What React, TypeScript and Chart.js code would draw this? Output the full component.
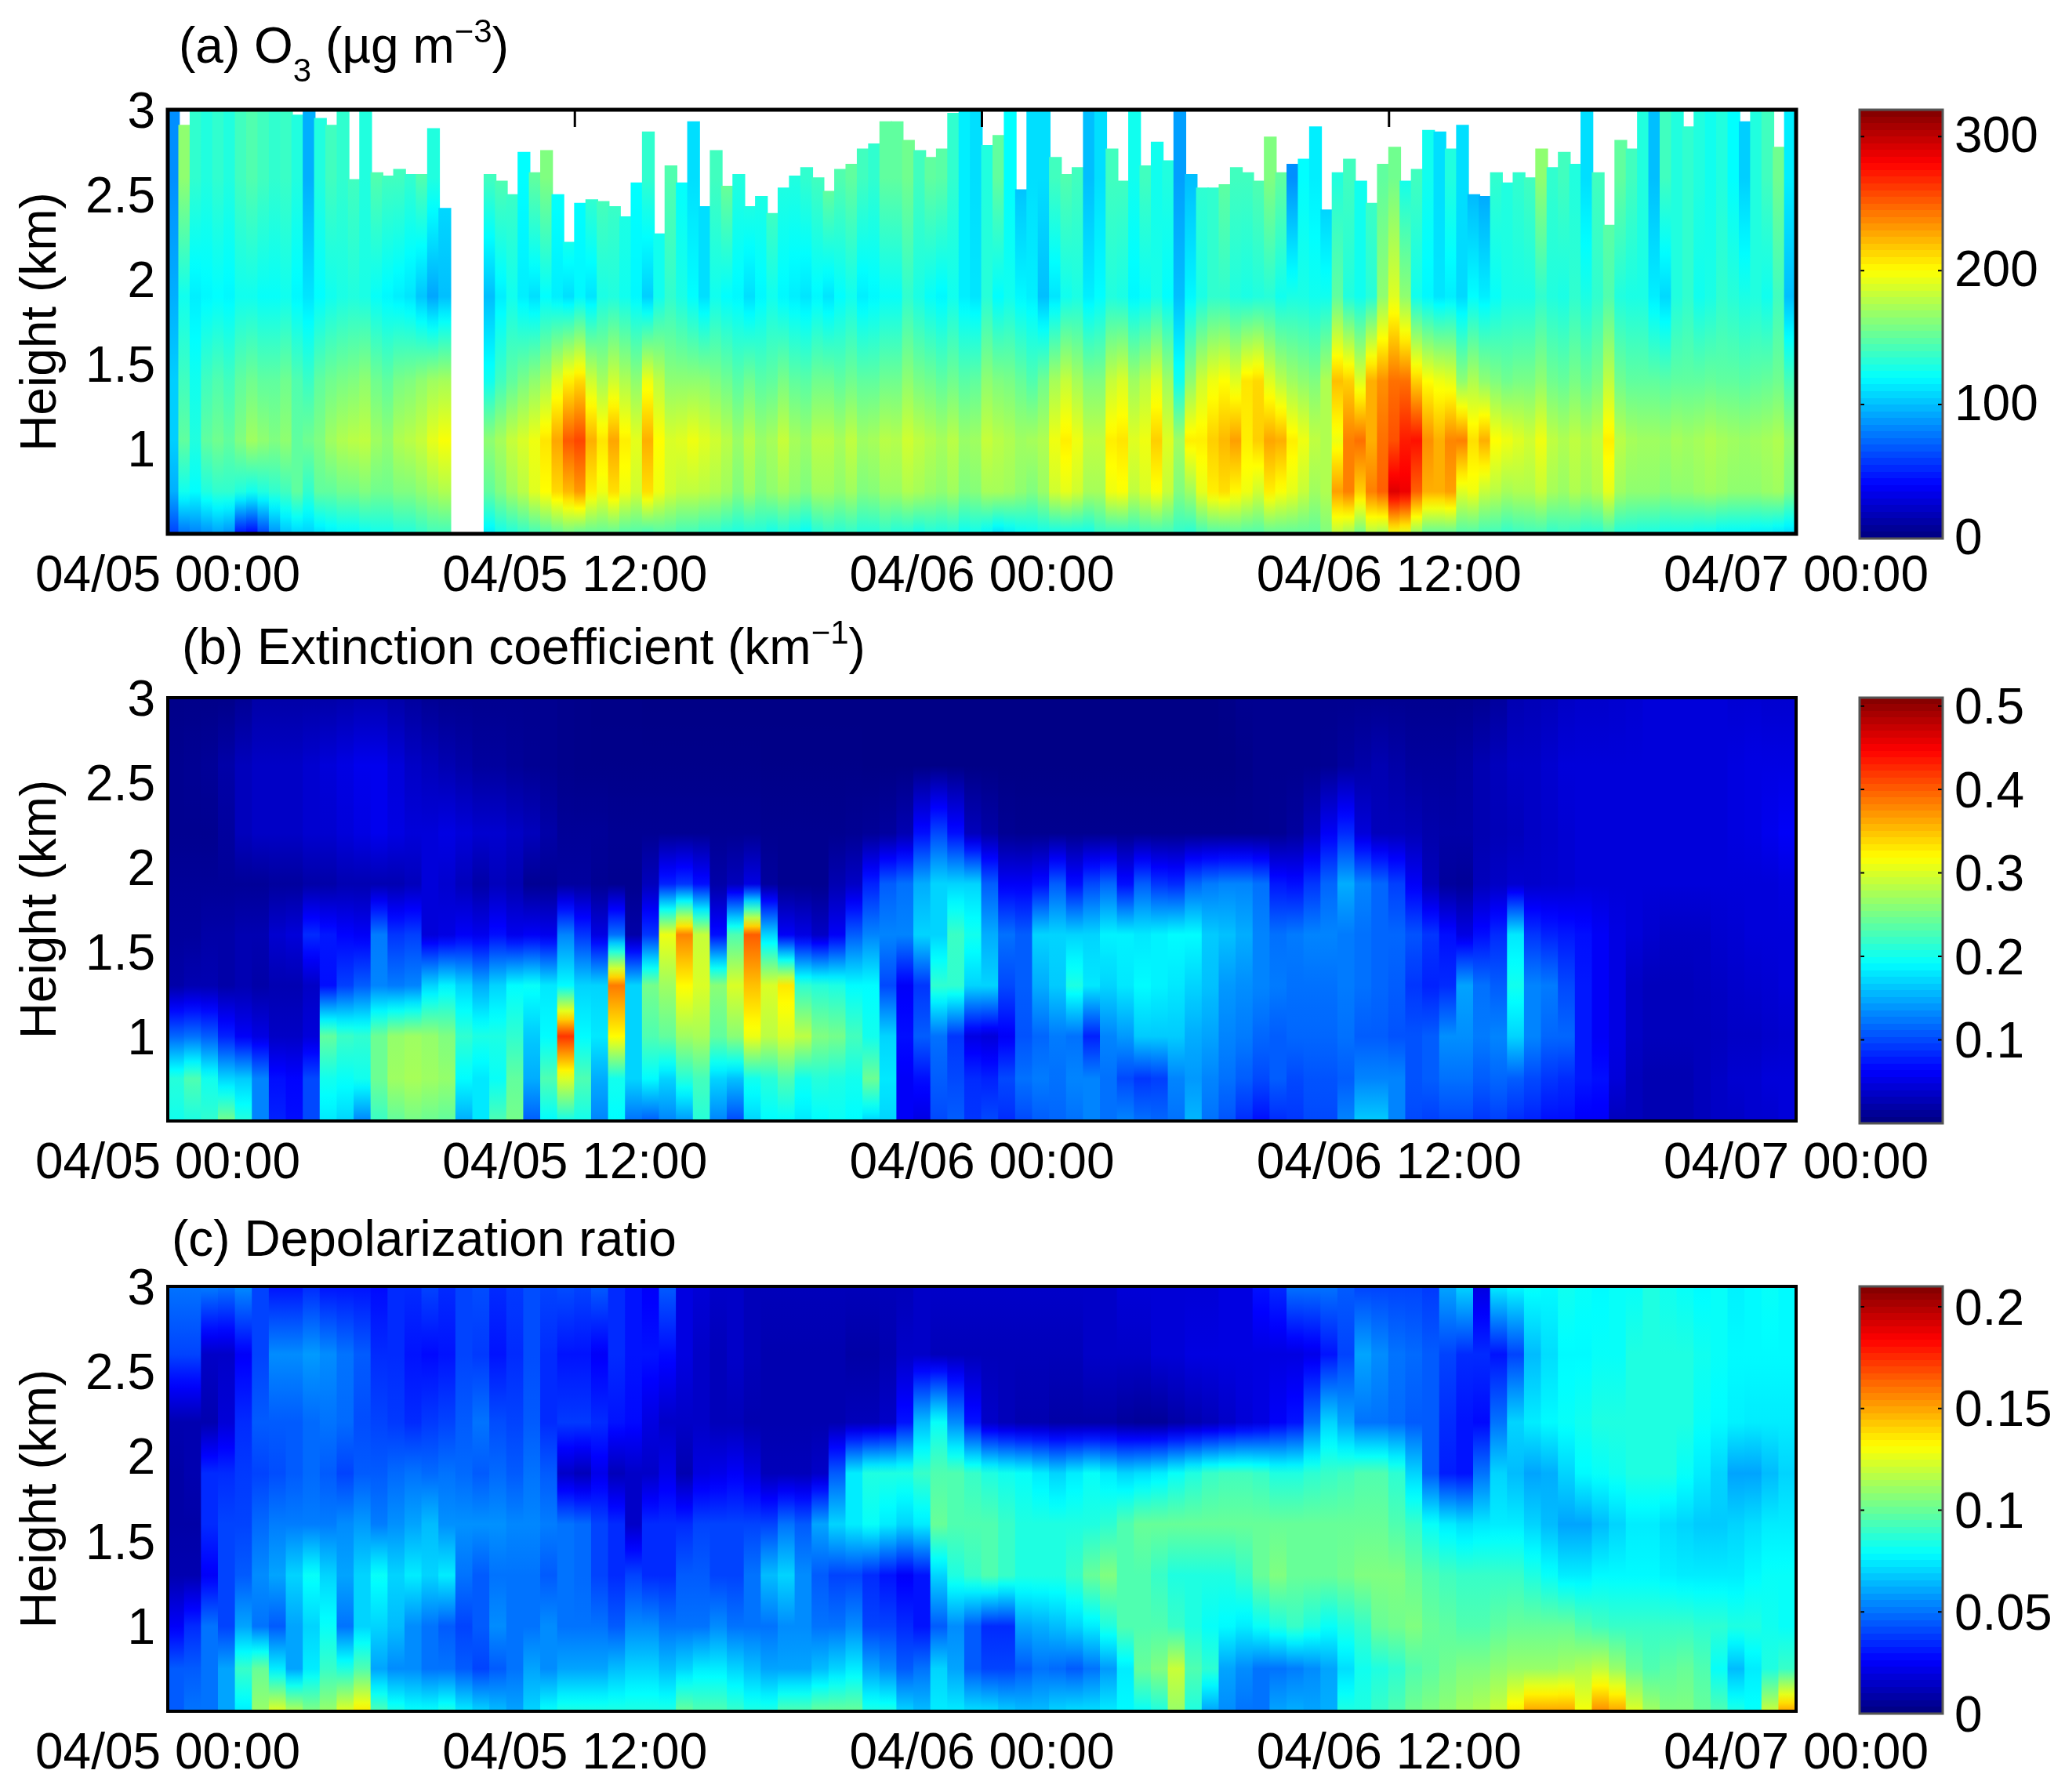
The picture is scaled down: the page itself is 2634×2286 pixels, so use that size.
import React, { useEffect, useRef } from "react";
import Chart from "chart.js/auto";

const X_TICK_HOURS = [0, 12, 24, 36, 48];
const X_LABELS = ["04/05 00:00", "04/05 12:00", "04/06 00:00", "04/06 12:00", "04/07 00:00"];
const Y_TICKS = [1, 1.5, 2, 2.5, 3];

// O3 (ug m-3), 20-minute columns
const O3_HEIGHTS = [0.5, 0.75, 1.05, 1.4, 1.9, 2.6];
const O3_TOP = [
  3,2.91,3,3,3,3,3,3,3,3,3,2.97,3,2.95,2.91,3,2.59,3,2.63,2.61,2.65,2.62,2.62,2.89,
  2.42,null,null,null,2.62,2.58,2.5,2.75,2.63,2.76,2.5,2.22,2.45,2.47,2.46,2.43,2.37,2.57,2.87,2.27,2.67,2.57,2.93,2.43,
  2.76,2.55,2.62,2.43,2.49,2.39,2.54,2.61,2.66,2.6,2.52,2.65,2.68,2.77,2.8,2.93,2.93,2.82,2.76,2.72,2.77,2.98,3,3,
  2.79,2.85,3,2.53,3,3,2.72,2.62,2.66,3,3,2.77,2.58,3,2.67,2.81,2.7,3,2.62,2.54,2.54,2.56,2.66,2.63,
  2.58,2.84,2.63,2.68,2.71,2.9,2.41,2.63,2.71,2.58,2.45,2.68,2.78,2.58,2.65,2.88,2.87,2.77,2.91,2.5,2.49,2.63,2.57,2.63,
  2.6,2.77,2.66,2.75,2.68,3,2.63,2.32,2.82,2.77,3,3,3,3,2.9,3,3,3,3,2.93,3,3,2.78,3,
];
const O3_H050 = [
  60,75,80,85,90,85,45,40,60,85,100,105,105,110,115,118,118,122,125,125,130,130,135,140,
  140,null,null,null,115,125,130,135,140,145,150,155,150,150,150,150,145,145,140,145,145,140,140,135,
  135,130,128,130,130,125,130,125,120,130,135,132,135,130,130,135,130,130,125,130,128,130,122,125,
  118,110,115,120,122,125,125,125,125,125,135,135,135,135,140,140,140,135,132,140,145,145,148,145,
  145,150,150,150,150,150,160,178,170,155,175,170,195,190,165,150,150,150,145,145,140,140,135,138,
  140,140,135,138,135,132,132,140,130,130,128,128,125,125,125,122,122,118,118,118,115,115,112,108,
];
const O3_H075 = [
  95,125,120,130,135,135,130,125,130,135,140,150,135,150,150,155,155,160,155,155,160,160,165,170,
  175,null,null,null,150,160,170,178,190,200,212,222,232,205,195,210,195,185,210,195,185,180,180,178,
  175,170,160,170,160,165,170,165,160,170,170,165,170,160,162,168,168,175,172,168,165,170,160,162,
  172,172,170,165,160,168,185,192,185,172,172,195,198,180,188,198,182,160,170,192,205,210,202,195,
  185,205,198,192,182,170,175,230,240,215,240,250,290,285,250,225,225,230,190,195,182,178,172,175,
  175,182,172,168,175,170,175,192,170,165,165,165,162,165,165,168,170,168,165,165,165,168,170,158,
];
const O3_H105 = [
  105,150,130,150,155,150,160,170,165,160,165,150,155,160,170,175,178,180,170,165,175,178,182,192,
  198,null,null,null,165,172,182,188,195,208,228,252,258,225,208,228,205,192,225,200,188,190,195,190,
  185,178,168,178,168,172,182,172,168,178,178,172,180,170,172,178,176,185,180,176,172,178,168,170,
  182,178,175,170,172,175,195,205,195,180,180,205,208,190,195,215,190,170,205,205,215,222,230,205,
  215,228,225,205,195,180,175,195,240,245,225,245,255,272,275,235,225,238,240,210,225,200,195,190,
  185,195,180,175,180,175,180,205,178,172,170,170,168,172,170,172,175,172,170,168,170,172,175,165,
];
const O3_H140 = [
  105,140,125,140,145,140,150,155,150,150,155,145,138,150,155,158,160,165,155,150,158,160,165,170,
  172,null,null,null,125,140,150,158,165,172,190,205,212,185,172,185,175,165,195,180,165,165,165,165,
  160,155,148,155,148,150,158,150,148,155,155,150,155,150,150,155,155,165,158,155,150,155,148,150,
  165,160,158,152,145,155,172,182,172,160,160,182,188,170,178,190,170,125,165,185,195,200,190,208,
  212,190,178,170,165,160,175,220,215,190,225,235,245,245,215,200,195,192,165,175,165,160,155,158,
  158,165,155,152,158,152,158,180,155,150,150,150,148,150,150,150,152,150,150,148,150,152,155,142,
];
const O3_H190 = [
  95,125,115,118,120,118,125,125,122,122,125,118,112,120,125,128,130,128,122,118,115,112,102,92,
  100,null,null,null,100,115,125,115,110,120,115,110,118,112,128,130,125,118,105,125,135,128,120,110,
  125,120,118,110,118,125,118,115,112,118,112,120,125,115,118,122,122,135,128,122,118,125,115,112,
  132,120,125,118,115,100,112,125,128,115,120,130,128,118,122,128,120,100,118,128,135,135,130,128,
  130,132,125,128,128,125,125,150,130,125,132,165,190,165,125,118,112,115,108,120,115,122,128,128,
  128,135,130,128,135,128,135,145,130,128,128,115,108,130,135,125,128,135,132,128,130,125,140,100,
];
const O3_H260 = [
  85,165,135,130,135,130,140,145,140,135,138,130,95,130,140,135,140,130,145,140,140,135,145,130,
  110,null,null,null,140,145,140,120,150,160,122,145,120,140,145,140,130,120,135,125,145,120,110,110,
  140,155,130,135,130,145,130,130,135,140,155,145,150,140,135,150,150,155,140,150,148,135,115,110,
  130,150,120,100,110,110,140,145,140,100,110,140,140,125,140,125,130,90,100,135,135,150,140,140,
  145,160,150,85,120,115,100,130,140,125,140,150,155,125,140,125,110,130,110,95,90,135,130,135,
  140,165,135,140,130,110,140,150,150,140,130,100,140,130,135,130,125,130,120,105,130,140,155,115,
];

// Extinction coefficient (0.001 km-1), 30-minute columns
const EXT_HEIGHTS = [0.5, 0.75, 1.0, 1.3, 1.6, 1.9, 2.2, 2.6, 3.0];
const EXT_H050 = [
  200,205,215,250,210,130,80,70,100,180,170,130,220,240,250,245,240,150,180,230,250,110,190,200,
  200,130,190,120,110,130,140,210,130,100,170,190,190,180,190,195,190,170,170,60,50,100,110,90,
  100,85,100,110,115,120,130,120,130,120,115,120,155,120,105,85,70,85,90,100,100,130,165,165,
  130,100,95,100,100,90,95,85,80,70,70,60,60,30,30,25,25,25,30,35,35,40,40,45,
];
const EXT_H075 = [
  210,230,200,170,165,130,70,65,100,200,195,200,245,270,275,270,265,190,180,195,240,150,230,300,
  230,150,200,170,190,170,210,225,170,160,200,210,230,200,210,205,200,245,180,60,70,110,100,85,
  80,100,120,125,120,130,130,120,100,90,95,130,140,130,120,110,100,110,100,105,105,110,130,130,
  130,105,110,120,120,110,115,110,100,90,85,75,70,45,30,25,25,25,30,35,40,40,45,45,
];
const EXT_H100 = [
  115,120,110,80,60,50,35,35,45,240,220,215,245,265,270,265,255,215,205,205,215,165,190,420,
  190,180,320,170,230,240,270,275,240,260,310,285,300,285,255,250,225,200,170,70,110,120,90,50,
  45,60,105,115,125,120,80,130,140,165,165,165,150,145,130,125,115,110,115,115,115,120,110,110,
  105,105,110,135,135,125,130,170,130,115,115,75,60,50,35,30,30,30,30,32,35,35,38,40,
];
const EXT_H130 = [
  20,25,25,20,25,20,25,25,35,70,95,110,130,125,130,170,185,170,150,170,190,195,180,190,
  170,170,385,170,250,270,320,300,260,300,350,300,330,215,210,205,190,190,100,60,90,215,215,170,
  170,100,110,150,165,205,180,170,180,190,185,180,170,160,140,135,130,125,120,120,120,125,120,115,
  110,90,80,85,145,120,110,200,130,125,100,75,60,50,35,30,30,30,32,35,38,40,42,45,
];
const EXT_H160 = [
  15,15,20,20,25,25,40,45,85,75,65,60,125,90,95,45,50,60,55,70,55,60,55,130,
  90,50,120,20,90,310,380,290,70,230,400,170,60,50,35,60,110,130,130,130,170,170,220,200,
  150,120,110,170,170,170,170,185,185,180,185,190,190,165,160,150,130,120,125,130,130,125,120,115,
  115,105,90,70,50,70,85,180,90,80,75,70,60,50,45,40,35,35,35,40,42,45,45,45,
];
const EXT_H190 = [
  12,12,12,12,12,12,15,15,20,20,25,25,25,25,30,45,40,30,20,30,25,10,10,15,
  15,10,8,8,30,80,90,70,20,30,50,15,8,8,8,25,35,80,110,120,150,170,170,170,
  110,60,60,70,110,70,100,115,70,110,90,85,115,125,130,130,120,75,70,90,115,150,130,115,
  95,60,30,14,12,30,35,40,38,40,42,45,45,45,45,45,45,45,45,45,45,45,45,48,
];
const EXT_H220 = [
  8,8,8,15,30,35,35,35,40,40,45,50,55,50,45,45,50,45,40,40,35,30,20,12,
  12,12,10,10,10,10,10,10,10,10,10,8,8,8,8,8,10,12,15,25,70,100,70,30,
  20,10,8,8,8,8,8,8,8,8,8,8,8,8,8,8,8,10,15,30,60,85,45,30,
  30,28,22,20,20,25,28,30,35,38,42,45,45,45,45,45,45,45,45,45,48,50,55,60,
];
const EXT_H260 = [
  8,10,12,20,30,35,35,35,40,45,50,55,55,45,35,30,25,20,15,15,12,10,8,6,
  5,5,5,5,5,5,5,5,5,5,5,4,4,4,4,4,4,3,3,3,3,3,3,3,
  3,3,3,3,3,3,3,3,3,3,3,3,3,3,3,5,8,8,8,8,10,15,20,25,
  20,15,15,15,18,25,30,35,35,40,45,45,45,45,45,45,45,45,45,45,48,50,50,50,
];
const EXT_H300 = [
  5,5,5,5,10,20,20,20,20,20,22,25,25,20,15,10,8,8,8,8,8,8,8,6,
  5,4,4,4,3,3,3,3,3,3,3,3,3,3,3,3,3,3,3,3,3,3,3,3,
  3,3,3,3,3,3,3,3,3,3,3,3,3,3,5,8,8,8,8,8,8,8,8,8,
  8,8,8,8,8,10,15,25,28,30,35,38,38,40,42,45,45,45,45,45,42,42,40,40,
];

// Depolarization ratio (0.001), 30-minute columns
const DEP_HEIGHTS = [0.5, 0.75, 1.0, 1.3, 1.6, 1.9, 2.2, 2.6, 3.0];
const DEP_H050 = [
  45,50,50,60,75,110,125,115,105,110,125,135,95,85,80,80,85,75,70,65,60,70,80,85,
  85,85,85,85,85,85,100,95,95,90,85,85,95,95,100,100,100,85,85,70,65,75,75,72,
  72,68,65,65,70,72,72,75,78,80,85,110,85,60,55,50,50,60,62,60,62,85,85,90,
  95,102,105,108,112,115,120,135,150,150,150,130,155,150,125,112,105,105,100,95,85,80,120,150,
];
const DEP_H075 = [
  45,45,50,60,90,100,75,60,75,90,85,95,60,55,55,50,50,45,40,45,50,60,55,60,
  60,60,65,70,70,65,70,75,75,70,65,60,60,60,65,70,75,60,55,45,50,70,60,45,
  40,40,45,50,48,45,50,58,75,100,105,120,95,88,60,55,50,50,52,55,60,72,82,85,
  88,95,98,102,105,105,108,110,110,110,112,115,118,110,100,95,98,100,95,80,65,75,85,90,
];
const DEP_H100 = [
  25,35,50,40,60,50,45,60,70,80,50,70,70,65,55,50,45,40,45,55,50,50,55,50,
  50,50,45,55,55,50,50,50,55,50,50,50,55,55,50,50,55,40,40,35,30,45,55,45,
  35,35,60,62,65,70,75,85,95,95,95,90,85,80,78,75,80,85,90,85,80,85,90,100,
  102,105,100,98,95,95,98,100,100,100,100,95,92,90,90,90,90,90,88,88,85,85,82,80,
];
const DEP_H130 = [
  10,10,25,40,45,55,60,70,80,70,60,70,80,70,75,70,75,50,45,50,50,50,45,50,
  48,40,35,40,35,35,45,45,40,40,50,65,70,55,45,40,40,35,30,25,30,70,85,90,
  95,90,85,85,85,90,100,105,95,95,90,85,85,85,85,90,100,105,100,100,100,102,105,105,
  105,100,95,92,90,90,90,90,85,80,75,75,78,78,78,78,76,75,75,75,75,78,80,80,
];
const DEP_H160 = [
  8,8,35,40,40,48,52,52,52,52,55,58,52,56,60,65,56,56,56,56,54,54,52,50,
  48,40,35,15,35,35,35,40,40,40,40,40,50,45,60,70,75,80,75,70,75,100,95,95,
  95,90,85,85,85,85,85,88,95,100,100,100,100,100,100,100,100,100,100,100,100,100,100,100,
  95,90,80,75,72,74,75,75,70,65,60,60,65,70,75,75,72,70,68,68,70,72,75,75,
];
const DEP_H190 = [
  8,10,35,35,38,40,42,45,48,45,40,45,45,48,50,48,50,48,45,48,45,50,45,15,
  12,22,12,15,15,22,10,20,22,25,20,12,12,12,15,45,75,85,85,85,90,95,95,90,
  85,82,80,75,70,75,80,75,70,72,75,80,85,90,92,92,90,85,85,88,90,92,95,95,
  88,70,45,32,30,50,70,65,60,62,70,78,80,82,85,85,85,80,75,70,60,60,65,70,
];
const DEP_H220 = [
  10,10,10,18,35,45,45,45,48,50,48,42,40,38,35,38,40,45,50,42,40,45,35,38,
  38,35,30,28,20,15,15,15,12,12,10,10,10,10,10,10,12,12,15,30,65,80,55,30,
  15,12,10,10,8,8,8,8,6,5,5,8,10,12,15,18,20,25,30,50,70,60,50,50,
  48,45,45,35,30,28,50,70,75,78,80,82,85,85,85,85,85,85,80,78,76,75,75,75,
];
const DEP_H260 = [
  40,40,15,15,25,40,55,55,58,55,50,45,35,35,30,28,30,40,38,30,35,42,35,30,
  30,25,35,30,30,28,20,15,12,15,12,10,10,10,10,10,8,8,10,15,15,12,12,12,
  12,12,12,12,12,12,15,15,15,15,18,18,20,20,20,20,20,20,20,22,30,40,60,55,
  50,48,45,40,35,35,30,40,65,72,78,78,80,80,85,85,85,85,82,80,78,78,78,78,
];
const DEP_H300 = [
  50,50,52,50,55,40,30,30,35,30,30,30,28,35,35,40,35,40,42,35,38,42,40,42,
  40,45,35,30,25,45,20,18,15,15,12,12,12,12,12,12,12,12,12,12,15,15,15,15,
  15,15,15,15,15,15,15,15,18,18,18,18,18,18,20,20,30,35,50,50,50,45,40,40,
  40,40,38,60,70,20,75,78,80,78,82,80,78,80,80,85,82,80,78,80,76,78,80,78,
];

const FONT_FAMILY = '"Liberation Sans", Arial, sans-serif';
const FONT_SIZE = 64;
const PLOT_LEFT = 214;
const PLOT_RIGHT = 2291;
const CBAR_LEFT = 2372;
const CBAR_RIGHT = 2478;
const CBAR_CANVAS_LEFT = 2300;

const clamp = (v: number) => Math.max(0, Math.min(1, v));
const jet = (t: number) => {
  const r = clamp(1.5 - Math.abs(4 * t - 3));
  const g = clamp(1.5 - Math.abs(4 * t - 2));
  const b = clamp(1.5 - Math.abs(4 * t - 1));
  return `rgb(${Math.round(r * 255)},${Math.round(g * 255)},${Math.round(b * 255)})`;
};

const PANELS = [
  {
    canvasTop: 0, canvasHeight: 775, plotTop: 140, plotBottom: 681, cbarTop: 140, cbarBottom: 687,
    heights: O3_HEIGHTS, rows: [O3_H050, O3_H075, O3_H105, O3_H140, O3_H190, O3_H260], tops: O3_TOP,
    colHours: 1 / 3, valueMax: 320, cbarMax: 320, cbarTicks: [0, 100, 200, 300], topTicks: true, cbarLabelShift: 2,
    titleX: 228, titleY: 80,
    title: [
      { text: "(a) O" }, { text: "3", kind: "sub" }, { text: " (\u00b5g m" }, { text: "\u22123", kind: "sup" }, { text: ")" },
    ],
  },
  {
    canvasTop: 775, canvasHeight: 755, plotTop: 890, plotBottom: 1430, cbarTop: 890, cbarBottom: 1433,
    heights: EXT_HEIGHTS, rows: [EXT_H050, EXT_H075, EXT_H100, EXT_H130, EXT_H160, EXT_H190, EXT_H220, EXT_H260, EXT_H300], tops: null,
    colHours: 0.5, valueMax: 510, cbarMax: 0.51, cbarTicks: [0.1, 0.2, 0.3, 0.4, 0.5], topTicks: false, cbarLabelShift: 5,
    titleX: 232, titleY: 847,
    title: [{ text: "(b) Extinction coefficient (km" }, { text: "\u22121", kind: "sup" }, { text: ")" }],
  },
  {
    canvasTop: 1530, canvasHeight: 756, plotTop: 1641, plotBottom: 2183, cbarTop: 1641, cbarBottom: 2186,
    heights: DEP_HEIGHTS, rows: [DEP_H050, DEP_H075, DEP_H100, DEP_H130, DEP_H160, DEP_H190, DEP_H220, DEP_H260, DEP_H300], tops: null,
    colHours: 0.5, valueMax: 210, cbarMax: 0.21, cbarTicks: [0, 0.05, 0.1, 0.15, 0.2], topTicks: false, cbarLabelShift: 5,
    titleX: 219, titleY: 1602,
    title: [{ text: "(c) Depolarization ratio" }],
  },
];

function profileAt(panel: any, col: number, h: number) {
  const hs = panel.heights;
  if (h <= hs[0]) return panel.rows[0][col];
  for (let l = 1; l < hs.length; l++) {
    if (h <= hs[l]) {
      const a = panel.rows[l - 1][col];
      const b = panel.rows[l][col];
      const f = (h - hs[l - 1]) / (hs[l] - hs[l - 1]);
      return a + (b - a) * f;
    }
  }
  return panel.rows[hs.length - 1][col];
}

function columnFill(panel: any) {
  return (c: any) => {
    const y = c.chart.scales.y;
    if (!y || !c.chart.chartArea || c.dataIndex === undefined) return "#fff";
    const grad = c.chart.ctx.createLinearGradient(0, y.getPixelForValue(0.5), 0, y.getPixelForValue(3));
    const steps = 50;
    for (let s = 0; s <= steps; s++) {
      const v = profileAt(panel, c.dataIndex, 0.5 + (2.5 * s) / steps) ?? 0;
      grad.addColorStop(s / steps, jet(v / panel.valueMax));
    }
    return grad;
  };
}

function cbarFill(max: number) {
  return (c: any) => {
    const y = c.chart.scales.y;
    if (!y || !c.chart.chartArea) return "#fff";
    const grad = c.chart.ctx.createLinearGradient(0, y.getPixelForValue(0), 0, y.getPixelForValue(max));
    for (let k = 0; k < 64; k++) {
      const col = jet((k + 0.5) / 64);
      grad.addColorStop(k / 64, col);
      grad.addColorStop((k + 1) / 64, col);
    }
    return grad;
  };
}

function HeatPanel({ panel }: { panel: any }) {
  const ref = useRef<HTMLCanvasElement>(null);
  useEffect(() => {
    const localTop = panel.plotTop - panel.canvasTop;
    const localBottom = panel.plotBottom - panel.canvasTop;
    const nCols = panel.rows[0].length;
    const thickness = (PLOT_RIGHT - PLOT_LEFT) / nCols + 1.2;
    const data = panel.rows[0].map((_: any, i: number) => {
      const top = panel.tops ? panel.tops[i] : 3;
      return { x: (i + 0.5) * panel.colHours, y: top === null ? null : [0.5, top] };
    });
    const decor = {
      id: "decor",
      afterDraw(chart: any) {
        const { ctx, chartArea: a, scales } = chart;
        ctx.save();
        if (panel.topTicks) {
          ctx.strokeStyle = "#000";
          ctx.lineWidth = 3;
          X_TICK_HOURS.slice(1, -1).forEach((h) => {
            const px = scales.x.getPixelForValue(h);
            ctx.beginPath();
            ctx.moveTo(px, a.top);
            ctx.lineTo(px, a.top + 22);
            ctx.stroke();
          });
        }
        ctx.strokeStyle = "#000";
        ctx.lineWidth = panel.topTicks ? 5 : 4;
        ctx.strokeRect(a.left, a.top, a.right - a.left, a.bottom - a.top);
        ctx.fillStyle = "#000";
        ctx.textBaseline = "alphabetic";
        ctx.textAlign = "left";
        let x = panel.titleX;
        const base = panel.titleY - panel.canvasTop;
        panel.title.forEach((run: any) => {
          const small = run.kind === "sub" || run.kind === "sup";
          ctx.font = `${small ? 42 : FONT_SIZE}px ${FONT_FAMILY}`;
          const dy = run.kind === "sub" ? 24 : run.kind === "sup" ? -26 : 0;
          ctx.fillText(run.text, x, base + dy);
          x += ctx.measureText(run.text).width;
        });
        ctx.restore();
      },
    };
    const chart = new Chart(ref.current as any, {
      type: "bar",
      data: {
        datasets: [{
          data,
          barThickness: thickness,
          borderWidth: 0,
          backgroundColor: columnFill(panel),
        }],
      },
      options: {
        responsive: false,
        animation: false,
        events: [],
        layout: { autoPadding: false, padding: { left: 0, top: localTop, right: 2634 - PLOT_RIGHT, bottom: 0 } },
        plugins: { legend: { display: false }, tooltip: { enabled: false } },
        scales: {
          x: {
            type: "linear",
            offset: false,
            min: 0,
            max: 48,
            grid: { display: false },
            border: { display: false },
            afterBuildTicks: (s: any) => { s.ticks = X_TICK_HOURS.map((value) => ({ value })); },
            afterFit: (s: any) => {
              s.height = panel.canvasHeight - localBottom;
              s.paddingLeft = 0;
              s.paddingRight = 0;
            },
            ticks: {
              autoSkip: false,
              maxRotation: 0,
              minRotation: 0,
              padding: 9,
              color: "#000",
              font: { family: FONT_FAMILY, size: FONT_SIZE },
              callback: (v: any) => X_LABELS[X_TICK_HOURS.indexOf(v)],
            },
          },
          y: {
            type: "linear",
            min: 0.5,
            max: 3,
            grid: { display: false },
            border: { display: false },
            afterBuildTicks: (s: any) => { s.ticks = Y_TICKS.map((value) => ({ value })); },
            afterFit: (s: any) => {
              s.width = PLOT_LEFT;
              s.paddingTop = 0;
              s.paddingBottom = 0;
            },
            title: {
              display: true,
              text: "Height (km)",
              color: "#000",
              font: { family: FONT_FAMILY, size: FONT_SIZE, lineHeight: 1 },
              padding: { top: 21, bottom: 0 },
            },
            ticks: {
              autoSkip: false,
              padding: 8,
              labelOffset: 5,
              color: "#000",
              font: { family: FONT_FAMILY, size: FONT_SIZE },
              callback: (v: any) => String(v),
            },
          },
        },
      } as any,
      plugins: [decor],
    });
    return () => chart.destroy();
  }, [panel]);
  return (
    <canvas
      ref={ref}
      width={2634}
      height={panel.canvasHeight}
      style={{ position: "absolute", left: 0, top: panel.canvasTop, display: "block", width: 2634, height: panel.canvasHeight }}
    />
  );
}

function ColorBar({ panel }: { panel: any }) {
  const ref = useRef<HTMLCanvasElement>(null);
  useEffect(() => {
    const localTop = panel.cbarTop - panel.canvasTop;
    const localBottom = panel.cbarBottom - panel.canvasTop;
    const frame = {
      id: "frame",
      afterDraw(chart: any) {
        const { ctx, chartArea: a, scales } = chart;
        ctx.save();
        ctx.strokeStyle = "#000";
        ctx.lineWidth = 2;
        panel.cbarTicks.forEach((t: number) => {
          const py = scales.y.getPixelForValue(t);
          ctx.beginPath();
          ctx.moveTo(a.left, py);
          ctx.lineTo(a.left + 6, py);
          ctx.moveTo(a.right, py);
          ctx.lineTo(a.right - 6, py);
          ctx.stroke();
        });
        ctx.strokeStyle = "#555";
        ctx.lineWidth = 3;
        ctx.strokeRect(a.left, a.top, a.right - a.left, a.bottom - a.top);
        ctx.restore();
      },
    };
    const chart = new Chart(ref.current as any, {
      type: "bar",
      data: {
        labels: [""],
        datasets: [{
          data: [[0, panel.cbarMax]],
          barPercentage: 1,
          categoryPercentage: 1,
          borderWidth: 0,
          backgroundColor: cbarFill(panel.cbarMax),
        }],
      },
      options: {
        responsive: false,
        animation: false,
        events: [],
        layout: {
          autoPadding: false,
          padding: { left: CBAR_LEFT - CBAR_CANVAS_LEFT, top: localTop, right: 0, bottom: 0 },
        },
        plugins: { legend: { display: false }, tooltip: { enabled: false } },
        scales: {
          x: {
            display: true,
            grid: { display: false },
            border: { display: false },
            ticks: { display: false },
            afterFit: (s: any) => { s.height = panel.canvasHeight - localBottom; },
          },
          y: {
            type: "linear",
            position: "right",
            min: 0,
            max: panel.cbarMax,
            grid: { display: false },
            border: { display: false },
            afterBuildTicks: (s: any) => { s.ticks = panel.cbarTicks.map((value: number) => ({ value })); },
            afterFit: (s: any) => {
              s.width = 2634 - CBAR_RIGHT;
              s.paddingTop = 0;
              s.paddingBottom = 0;
            },
            ticks: {
              autoSkip: false,
              padding: 7,
              labelOffset: panel.cbarLabelShift,
              color: "#000",
              font: { family: FONT_FAMILY, size: FONT_SIZE },
              callback: (v: any) => String(v),
            },
          },
        },
      } as any,
      plugins: [frame],
    });
    return () => chart.destroy();
  }, [panel]);
  return (
    <canvas
      ref={ref}
      width={2634 - CBAR_CANVAS_LEFT}
      height={panel.canvasHeight}
      style={{ position: "absolute", left: CBAR_CANVAS_LEFT, top: panel.canvasTop, display: "block", width: 2634 - CBAR_CANVAS_LEFT, height: panel.canvasHeight }}
    />
  );
}

export default function App() {
  return (
    <div style={{ position: "absolute", left: 0, top: 0, width: 2634, height: 2286, background: "#fff", overflow: "hidden" }}>
      {PANELS.map((p, i) => (
        <React.Fragment key={i}>
          <HeatPanel panel={p} />
          <ColorBar panel={p} />
        </React.Fragment>
      ))}
    </div>
  );
}
